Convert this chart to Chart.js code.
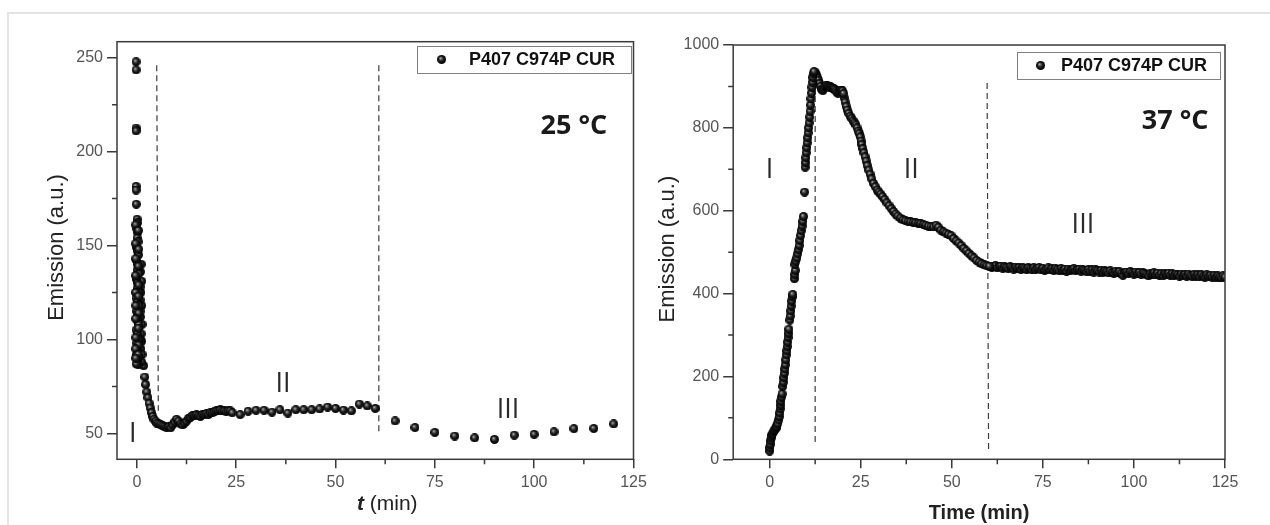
<!DOCTYPE html>
<html>
<head>
<meta charset="utf-8">
<script src="https://cdn.jsdelivr.net/npm/chart.js@4.4.1/dist/chart.umd.min.js"></script>
<style>
  body { margin: 0; background: #fff; width: 1270px; height: 525px; overflow: hidden; position: relative; }
  #frame { position: absolute; left: 7px; top: 12px; width: 1300px; height: 600px; border-top: 2px solid #e4e4e4; border-left: 2px solid #e4e4e4; }
  canvas { position: absolute; top: 0; }
  #leftChart { left: 0; }
  #rightChart { left: 640px; }
</style>
</head>
<body>
<div id="frame"></div>
<canvas id="leftChart" width="660" height="525"></canvas>
<canvas id="rightChart" width="630" height="525"></canvas>
<script>
const legendLabel = 'P407 C974P CUR';
const yTitle = 'Emission (a.u.)';

// 25 °C run: [time (min), emission]
const t25Burst = [
  [-0.2, 247.8], [-0.2, 243.5], [-0.2, 212.5], [-0.2, 211], [-0.2, 181.5], [-0.2, 179.5], [-0.15, 172],
  [0.05, 164], [0.15, 162], [0.0, 159], [0.2, 157], [0.05, 154], [0.3, 152], [-0.1, 149], [0.15, 147],
  [0.4, 145], [0.0, 142], [0.2, 140], [0.1, 137], [0.5, 135], [-0.1, 132], [0.2, 130], [0.05, 127],
  [0.4, 125], [-0.2, 122], [0.15, 120], [0.5, 118], [0.0, 115], [0.2, 113], [0.1, 110], [0.5, 108],
  [-0.2, 105], [0.15, 103], [0.4, 100], [0.0, 98], [0.2, 95], [-0.1, 92], [0.4, 90], [0.05, 88],
  [0.3, 86.5], [-0.2, 87],
  [-0.25, 161], [0.35, 158], [-0.3, 151], [0.45, 148], [-0.25, 143], [0.35, 139], [-0.3, 134], [0.45, 129],
  [-0.3, 125], [0.35, 123], [-0.25, 118], [0.45, 114], [-0.3, 111], [0.35, 106], [-0.25, 101], [0.45, 97],
  [-0.3, 95], [0.35, 92], [-0.25, 90]
];
const t25Shoulder = [
  [1.1, 140], [0.9, 136], [1.2, 131], [1.0, 125], [1.2, 118], [0.9, 112], [1.3, 108], [1.1, 103],
  [1.2, 99], [1.0, 95], [1.3, 92], [1.2, 88], [0.8, 128], [0.8, 121], [0.8, 115], [0.8, 100]
];
const t25Decay = [
  [1.7, 86], [2.0, 80], [2.2, 76], [2.5, 72], [2.8, 69], [3.1, 66], [3.4, 63.5], [3.7, 61], [4.0, 59],
  [4.3, 57.5], [4.7, 56.5], [5.0, 55.5], [5.5, 55], [6.0, 54.5], [6.5, 54], [7.0, 53.5], [7.5, 53],
  [8.0, 53.5], [8.5, 53], [9.0, 54.5], [9.5, 56], [10.0, 57.5], [10.5, 56.5], [11.0, 55], [11.5, 54.5],
  [12.0, 55.5], [12.5, 56.5], [13.0, 58], [13.5, 58.5], [14.0, 59.5], [14.5, 59.5], [15.0, 60],
  [15.5, 59.5], [16.0, 59], [16.5, 60], [17.0, 60], [17.5, 60.5], [18.0, 60], [18.5, 61], [19.0, 61],
  [19.5, 61.5], [20.0, 62], [20.5, 62], [21.0, 62.5], [21.5, 62], [22.0, 62], [22.5, 61.5], [23.0, 62],
  [23.5, 62], [24.0, 61]
];
const t25Steady = [
  [26, 60], [28, 61.8], [30, 62.3], [32, 62.3], [34, 61.3], [36, 62.6], [38, 60.8], [40, 62.6],
  [42, 62.6], [44, 62.6], [46, 63], [48, 64], [50, 63.3], [52, 62.4], [54, 62], [56, 65.6],
  [58, 64.6], [60, 63.3]
];
const t25Late = [
  [65, 56.6], [70, 53.1], [75, 50.5], [80, 48.6], [85, 47.6], [90, 46.8], [95, 49.1], [100, 49.5],
  [105, 50.8], [110, 52.5], [115, 52.6], [120, 55]
];
const t25DividerA = [[5.0, 246], [5.4, 62]];
const t25DividerB = [[60.9, 246], [60.9, 50.8]];
const t25XTicks = [0, 25, 50, 75, 100, 125];
const t25XMinor = [12.5, 37.5, 62.5, 87.5, 112.5];
const t25YTicks = [50, 100, 150, 200, 250];
const t25YMinor = [75, 125, 175, 225];

// 37 °C run: [time (min), emission]
const t37Rise = [
  [0, 20], [0.05, 28], [0.15, 36], [0.3, 45], [0.45, 52], [0.6, 58], [0.8, 62], [1.0, 66], [1.25, 70],
  [1.5, 73], [1.75, 76], [2.0, 80], [2.2, 86],
  [2.5, 95], [2.6, 103], [2.75, 112], [2.9, 122], [3.0, 131], [3.1, 140], [3.25, 150], [3.4, 158],
  [3.6, 176], [3.75, 186], [3.9, 197], [4.05, 208], [4.2, 218], [4.3, 228], [4.45, 240], [4.6, 252],
  [4.75, 262], [4.85, 272], [4.95, 283], [5.05, 294], [5.15, 304], [5.3, 314],
  [5.55, 336], [5.65, 346], [5.8, 358], [5.9, 370], [6.05, 382], [6.2, 392], [6.35, 398],
  [6.8, 436], [6.9, 446], [7.05, 456], [6.95, 470], [7.2, 478], [7.5, 486], [7.7, 496], [7.9, 506],
  [8.1, 516], [8.3, 528], [8.5, 540], [8.7, 552], [8.9, 563], [9.1, 574], [9.3, 586],
  [9.6, 645],
  [9.75, 705], [9.85, 716], [9.95, 728], [10.05, 740], [10.2, 752], [10.3, 764], [10.45, 776],
  [10.55, 788], [10.7, 800], [10.85, 812], [11.0, 826], [11.1, 840], [11.25, 855], [11.35, 870],
  [11.5, 884], [11.6, 898], [11.75, 910], [11.85, 922], [12.0, 932], [12.2, 936]
];
const t37Peak = [
  [12.5, 933], [12.8, 928], [13.1, 921], [13.4, 915], [13.7, 907], [14.0, 900], [14.3, 893], [14.6, 890],
  [14.9, 895], [15.2, 900], [15.5, 903], [15.8, 902], [16.1, 900], [16.4, 898], [16.7, 899], [17.0, 897],
  [17.3, 896], [17.6, 895], [17.9, 893], [18.2, 889], [18.5, 885], [18.8, 884], [19.1, 887], [19.4, 890],
  [19.7, 891], [20.0, 889], [20.3, 883]
];
const t37Decline = [
  [20.5, 872], [20.7, 862], [21.0, 852], [21.3, 843], [21.7, 835], [22.1, 828], [22.5, 823], [22.9, 817],
  [23.3, 812], [23.7, 807], [24.0, 800], [24.3, 792], [24.6, 786], [24.9, 778], [25.1, 768], [25.3, 760],
  [25.6, 750], [25.9, 740], [26.2, 730], [26.5, 720], [26.8, 709], [27.2, 698], [27.6, 688], [28.0, 677],
  [28.5, 666], [29.0, 658], [29.5, 650], [30.0, 645], [30.5, 640], [31.0, 634], [31.6, 627], [32.2, 619],
  [32.8, 612], [33.4, 605], [34.0, 598], [34.6, 592], [35.2, 587], [35.9, 582], [36.6, 578], [37.3, 576],
  [38.0, 574], [38.7, 573], [39.4, 572], [40.1, 571], [40.8, 570], [41.5, 569], [42.2, 567], [42.9, 565],
  [43.6, 563], [44.3, 562], [45.0, 561], [45.7, 565], [46.3, 560], [47.0, 553], [47.7, 549], [48.4, 546],
  [49.1, 543], [49.8, 540], [50.5, 533], [51.2, 527], [51.9, 522], [52.6, 516], [53.3, 509], [54.0, 503],
  [54.7, 497], [55.4, 491], [56.1, 486], [56.8, 480], [57.5, 476], [58.2, 472], [58.9, 469], [59.6, 467],
  [60.3, 466]
];
const t37Plateau = [
  [60.5, 466], [61, 463], [61.5, 465], [62, 467], [62.5, 462], [63, 465], [63.5, 466], [64, 461], [64.5, 465], [65, 463],
  [65.5, 460], [66, 465], [66.5, 462], [67, 459], [67.5, 464], [68, 461], [68.5, 463], [69, 458], [69.5, 463], [70, 461],
  [70.5, 458], [71, 463], [71.5, 460], [72, 457], [72.5, 462], [73, 458], [73.5, 461], [74, 463], [74.5, 457], [75, 461],
  [75.5, 456], [76, 459], [76.5, 462], [77, 457], [77.5, 460], [78, 456], [78.5, 461], [79, 458], [79.5, 455], [80, 460],
  [80.5, 456], [81, 459], [81.5, 454], [82, 459], [82.5, 455], [83, 458], [83.5, 460], [84, 455], [84.5, 458], [85, 459],
  [85.5, 454], [86, 458], [86.5, 456], [87, 453], [87.5, 458], [88, 454], [88.5, 457], [89, 452], [89.5, 457], [90, 455],
  [90.5, 452], [91, 456], [91.5, 451], [92, 455], [92.5, 453], [93, 450], [93.5, 455], [94, 451], [94.5, 449], [95, 454],
  [95.5, 450], [96, 453], [96.5, 448], [97, 444], [97.5, 451], [98, 452], [98.5, 448], [99, 453], [99.5, 450], [100, 447],
  [100.5, 452], [101, 448], [101.5, 451], [102, 446], [102.5, 450], [103, 448], [103.5, 445], [104, 443], [104.5, 449], [105, 447],
  [105.5, 450], [106, 445], [106.5, 449], [107, 444], [107.5, 448], [108, 443], [108.5, 448], [109, 446], [109.5, 449], [110, 444],
  [110.5, 448], [111, 443], [111.5, 447], [112, 445], [112.5, 442], [113, 447], [113.5, 443], [114, 446], [114.5, 442], [115, 447],
  [115.5, 443], [116, 441], [116.5, 446], [117, 442], [117.5, 445], [118, 441], [118.5, 446], [119, 442], [119.5, 440], [120, 445],
  [120.5, 441], [121, 444], [121.5, 440], [122, 444], [122.5, 439], [123, 443], [123.5, 440], [124, 438], [124.5, 443], [125, 440]
];
const t37DividerA = [[12.5, 925], [12.5, 37]];
const t37DividerB = [[59.7, 908], [60.1, 21]];
const t37XTicks = [0, 25, 50, 75, 100, 125];
const t37XMinor = [12.5, 37.5, 62.5, 87.5, 112.5];
const t37YTicks = [0, 200, 400, 600, 800, 1000];
const t37YMinor = [100, 300, 500, 700, 900];

const sansFont = '"Liberation Sans", Arial, sans-serif';
const axisColor = '#3a3a3a';

// shaded sphere used as the scatter marker
function makeBall(size) {
    const c = document.createElement('canvas');
    c.width = size;
    c.height = size;
    const g = c.getContext('2d');
    const r = size / 2;
    const grad = g.createRadialGradient(r * 0.72, r * 0.68, 0, r, r, r);
    grad.addColorStop(0, '#d6d6d6');
    grad.addColorStop(0.22, '#707070');
    grad.addColorStop(0.55, '#1c1c1c');
    grad.addColorStop(1, '#000');
    g.fillStyle = grad;
    g.beginPath();
    g.arc(r, r, r, 0, Math.PI * 2);
    g.fill();
    return c;
}

const ball25 = makeBall(9);
const ball37 = makeBall(9);
const legendBall = makeBall(9);

function toPoints(pairs) {
    return pairs.map(p => ({ x: p[0], y: p[1] }));
}

function markers(pairs, ball) {
    return { data: toPoints(pairs), pointStyle: ball, pointRadius: 4, showLine: false, order: 1 };
}

function divider(pairs) {
    return {
        data: toPoints(pairs), showLine: true, pointRadius: 0,
        borderColor: '#3c3c3c', borderWidth: 1.2, borderDash: [6, 4], order: 2
    };
}

function buildAxis(min, max, tickValues, tickLength, padding, fit) {
    return {
        type: 'linear',
        min: min,
        max: max,
        afterBuildTicks: s => { s.ticks = tickValues.map(v => ({ value: v })); },
        ticks: {
            color: '#555',
            font: { family: sansFont, size: 16 },
            padding: padding,
            autoSkip: false,
            maxRotation: 0,
            callback: v => String(v)
        },
        grid: { drawOnChartArea: false, tickLength: tickLength, color: axisColor, lineWidth: 1.5 },
        border: { display: false },
        afterFit: fit
    };
}

// plot frame, minor ticks, phase labels, legend box and axis titles
const figurePlugin = {
    id: 'figure',
    afterDraw(chart, args, o) {
        const ctx = chart.ctx;
        const a = chart.chartArea;
        const xs = chart.scales.x;
        const ys = chart.scales.y;
        ctx.save();

        ctx.strokeStyle = axisColor;
        ctx.lineWidth = 1.5;
        ctx.strokeRect(a.left, a.top, a.right - a.left, a.bottom - a.top);
        ctx.beginPath();
        o.minorX.forEach(v => {
            const px = xs.getPixelForValue(v);
            ctx.moveTo(px, a.bottom);
            ctx.lineTo(px, a.bottom + 5);
        });
        o.minorY.forEach(v => {
            const py = ys.getPixelForValue(v);
            ctx.moveTo(a.left, py);
            ctx.lineTo(a.left - 5, py);
        });
        ctx.stroke();

        ctx.textAlign = 'center';
        ctx.textBaseline = 'alphabetic';
        ctx.fillStyle = '#2b2b2b';
        ctx.font = '27px "Open Sans"';
        o.phases.forEach(p => {
            ctx.fillText(p.text, xs.getPixelForValue(p.x), ys.getPixelForValue(p.y) + 9.5);
        });
        ctx.fillStyle = '#1a1a1a';
        ctx.font = 'bold 27px "Open Sans"';
        ctx.fillText(o.temperature.text, xs.getPixelForValue(o.temperature.x), ys.getPixelForValue(o.temperature.y) + 10);

        const L = o.legend;
        const bx = Math.round(a.right - L.right - L.width);
        const by = Math.round(a.top + L.top);
        ctx.fillStyle = '#fff';
        ctx.fillRect(bx, by, L.width, L.height);
        ctx.strokeStyle = '#808080';
        ctx.lineWidth = 1;
        ctx.strokeRect(bx + 0.5, by + 0.5, L.width, L.height);
        ctx.drawImage(legendBall, bx + L.markerX - legendBall.width / 2, by + L.height / 2 - legendBall.height / 2);
        ctx.fillStyle = '#111';
        ctx.textAlign = 'left';
        ctx.textBaseline = 'middle';
        ctx.font = 'bold 18px ' + sansFont;
        ctx.fillText(legendLabel, bx + L.textX, by + L.height / 2 + 1);

        ctx.fillStyle = '#222';
        ctx.save();
        ctx.translate(a.left - o.yTitleGap, (a.top + a.bottom) / 2 - 3);
        ctx.rotate(-Math.PI / 2);
        ctx.textAlign = 'center';
        ctx.font = '22px ' + sansFont;
        ctx.fillText(yTitle, 0, 0);
        ctx.restore();

        let total = 0;
        o.xTitle.forEach(part => {
            ctx.font = part.font;
            total += ctx.measureText(part.text).width;
        });
        let tx = (a.left + a.right) / 2 + o.xTitleShift - total / 2;
        const ty = a.bottom + o.xTitleDrop;
        ctx.textAlign = 'left';
        o.xTitle.forEach(part => {
            ctx.font = part.font;
            ctx.fillText(part.text, tx, ty);
            tx += ctx.measureText(part.text).width;
        });
        ctx.restore();
    }
};

function baseOptions(padding, figure, xAxis, yAxis) {
    return {
        responsive: false,
        animation: false,
        events: [],
        layout: { padding: padding },
        scales: { x: xAxis, y: yAxis },
        plugins: { legend: { display: false }, tooltip: { enabled: false }, figure: figure }
    };
}

new Chart(document.getElementById('leftChart'), {
    type: 'scatter',
    data: {
        datasets: [
            markers(t25Burst, ball25),
            markers(t25Shoulder, ball25),
            markers(t25Decay, ball25),
            markers(t25Steady, ball25),
            markers(t25Late, ball25),
            divider(t25DividerA),
            divider(t25DividerB)
        ]
    },
    options: baseOptions(
        { left: 0, right: 26.5, top: 41.7, bottom: 0 },
        {
            minorX: t25XMinor,
            minorY: t25YMinor,
            phases: [
                { text: 'I', x: -1, y: 50.7 },
                { text: 'II', x: 36.8, y: 77.3 },
                { text: 'III', x: 93.4, y: 63.5 }
            ],
            temperature: { text: '25 °C', x: 110, y: 214.8 },
            legend: { right: 2.5, top: 4.3, width: 214, height: 27, markerX: 24.6, textX: 52 },
            yTitleGap: 60,
            xTitle: [
                { text: 't', font: 'italic bold 21px ' + sansFont },
                { text: ' (min)', font: '21px ' + sansFont }
            ],
            xTitleShift: 12,
            xTitleDrop: 45
        },
        buildAxis(-5, 125, t25XTicks, 9, 5, s => { s.height = 65.7; s.paddingLeft = 0; s.paddingRight = 0; }),
        buildAxis(36.2, 258.5, t25YTicks, 10, 4, s => { s.width = 117; s.paddingTop = 0; s.paddingBottom = 0; })
    ),
    plugins: [figurePlugin]
});

new Chart(document.getElementById('rightChart'), {
    type: 'scatter',
    data: {
        datasets: [
            markers(t37Rise, ball37),
            markers(t37Peak, ball37),
            markers(t37Decline, ball37),
            markers(t37Plateau, ball37),
            divider(t37DividerA),
            divider(t37DividerB)
        ]
    },
    options: baseOptions(
        { left: 0, right: 45, top: 45, bottom: 0 },
        {
            minorX: t37XMinor,
            minorY: t37YMinor,
            phases: [
                { text: 'I', x: 0, y: 703 },
                { text: 'II', x: 38.9, y: 703 },
                { text: 'III', x: 86, y: 570 }
            ],
            temperature: { text: '37 °C', x: 111.3, y: 821 },
            legend: { right: 5, top: 7, width: 203, height: 27, markerX: 23.6, textX: 44 },
            yTitleGap: 65,
            xTitle: [
                { text: 'Time (min)', font: 'bold 20px ' + sansFont }
            ],
            xTitleShift: 0,
            xTitleDrop: 54
        },
        buildAxis(-10, 125, t37XTicks, 9, 5, s => { s.height = 65.7; s.paddingLeft = 0; s.paddingRight = 0; }),
        buildAxis(0, 1000, t37YTicks, 10, 4, s => { s.width = 93.2; s.paddingTop = 0; s.paddingBottom = 0; })
    ),
    plugins: [figurePlugin]
});
</script>
</body>
</html>
